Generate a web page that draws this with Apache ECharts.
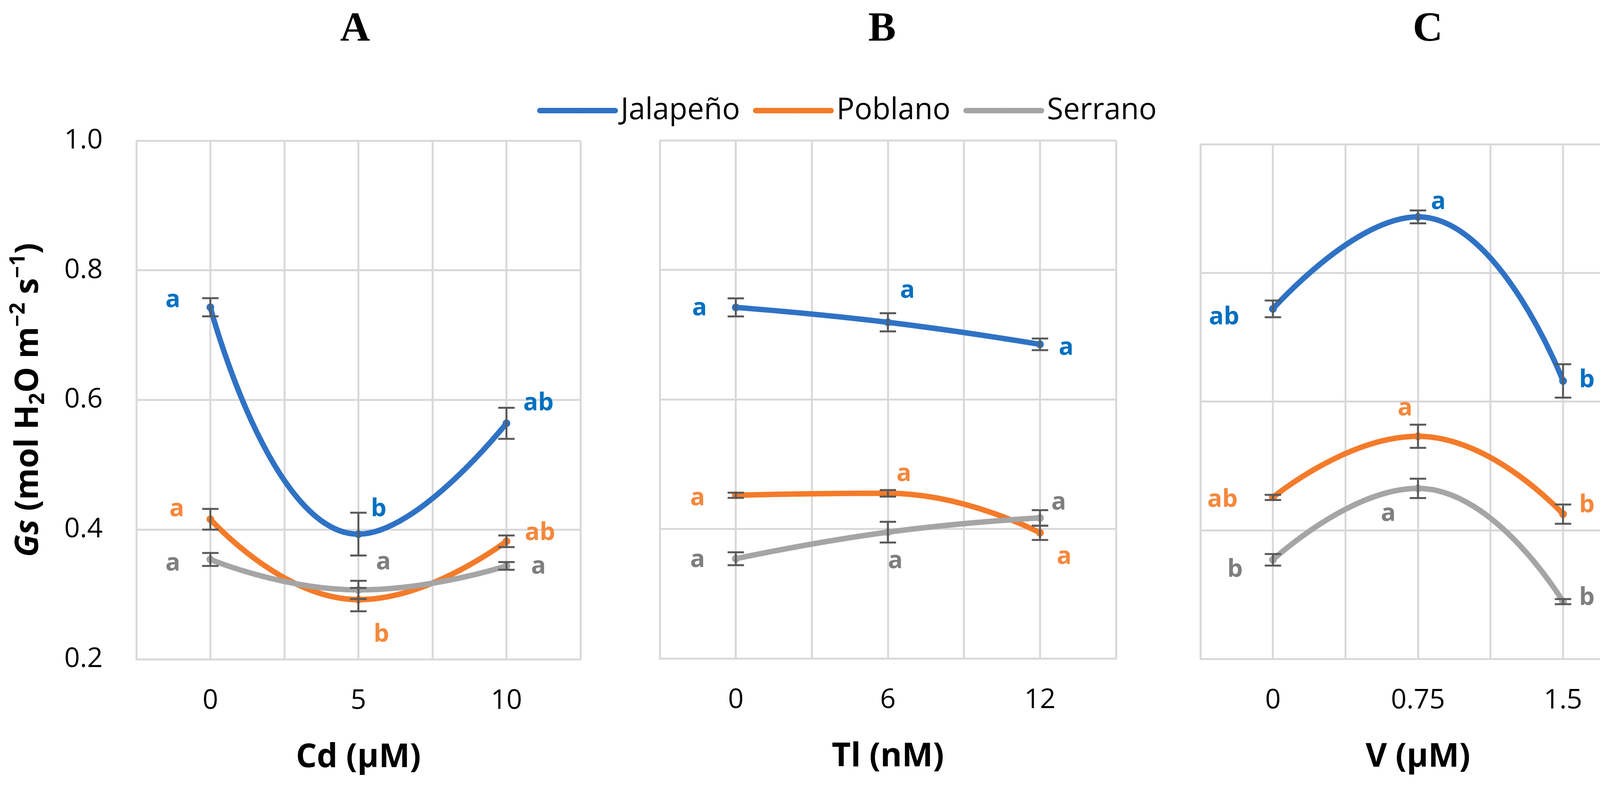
<!DOCTYPE html>
<html>
  <head>
    <title>Gs by metal treatment</title>
    <meta charset="UTF-8" />
    <script src="https://cdn.jsdelivr.net/npm/echarts@6/dist/echarts.min.js"></script>
    <style>
      html, body { margin: 0; padding: 0; background: #fff; }
    </style>
  </head>
  <body>
    <div id="main"></div>
    <script>
      const width = 4219;
      const height = 2019;
      const main = document.getElementById('main');
      main.style.width = `${width}px`;
      main.style.height = `${height}px`;

      const cultivars = ['Jalapeño', 'Poblano', 'Serrano'];
      const panelTitles = ['A', 'B', 'C'];
      const xNames = ['Cd (\u03bcM)', 'Tl (nM)', 'V (\u03bcM)'];
      const cdLevels = ['0', '5', '10'];
      const tlLevels = ['0', '6', '12'];
      const vLevels = ['0', '0.75', '1.5'];

      // Gs means (mol H2O m-2 s-1)
      const cdJal = [0.743, 0.393, 0.564];
      const cdPob = [0.416, 0.292, 0.382];
      const cdSer = [0.354, 0.307, 0.344];
      const tlJal = [0.742, 0.719, 0.685];
      const tlPob = [0.452, 0.455, 0.394];
      const tlSer = [0.354, 0.395, 0.417];
      const vJal = [0.744, 0.887, 0.632];
      const vPob = [0.451, 0.546, 0.425];
      const vSer = [0.354, 0.465, 0.289];

      // error bar half lengths
      const cdJalErr = [0.014, 0.033, 0.024];
      const cdPobErr = [0.016, 0.018, 0.009];
      const cdSerErr = [0.010, 0.014, 0.006];
      const tlJalErr = [0.014, 0.014, 0.009];
      const tlPobErr = [0.004, 0.005, 0.011];
      const tlSerErr = [0.010, 0.016, 0.012];
      const vJalErr = [0.013, 0.010, 0.026];
      const vPobErr = [0.004, 0.018, 0.015];
      const vSerErr = [0.009, 0.015, 0.004];

      // significance letters
      const cdJalLet = ['a', 'b', 'ab'];
      const cdPobLet = ['a', 'b', 'ab'];
      const cdSerLet = ['a', 'a', 'a'];
      const tlJalLet = ['a', 'a', 'a'];
      const tlPobLet = ['a', 'a', 'a'];
      const tlSerLet = ['a', 'a', 'a'];
      const vJalLet = ['ab', 'a', 'b'];
      const vPobLet = ['ab', 'a', 'b'];
      const vSerLet = ['b', 'a', 'b'];

      // where each letter sits relative to its point (px)
      const letterOffsets = [
        [[[-96, -18], [52, -64], [82, -51]], [[-86, -26], [59, 90], [86, -21]], [[-96, 10], [64, -70], [82, 2]]],
        [[[-93, 2], [50, -81], [67, 9]], [[-98, 8], [41, -49], [62, 62]], [[-98, 3], [19, 74], [48, -39]]],
        [[[-125, 22], [52, -38], [61, -2]], [[-129, 6], [-33, -71], [61, -23]], [[-97, 26], [-76, 65], [61, -9]]],
      ];

      const panels = [
        { levels: cdLevels, mean: [cdJal, cdPob, cdSer], err: [cdJalErr, cdPobErr, cdSerErr], letters: [cdJalLet, cdPobLet, cdSerLet] },
        { levels: tlLevels, mean: [tlJal, tlPob, tlSer], err: [tlJalErr, tlPobErr, tlSerErr], letters: [tlJalLet, tlPobLet, tlSerLet] },
        { levels: vLevels, mean: [vJal, vPob, vSer], err: [vJalErr, vPobErr, vSerErr], letters: [vJalLet, vPobLet, vSerLet] },
      ];

      const font = '"Open Sans", "Noto Sans", sans-serif';
      const lineColors = ['#2F72C4', '#F47B2A', '#A5A5A5'];
      const letterColors = ['#0070C0', '#F5883C', '#7F7F7F'];
      const gridColor = '#D9D9D9';
      const barColor = '#595959';

      const grids = [
        { left: 349, top: 360, width: 1137, height: 1327 },
        { left: 1689, top: 359, width: 1168, height: 1326 },
        { left: 3073, top: 369, width: 1114, height: 1317 },
      ];
      const titleX = [909, 2258, 3655];

      // categories sit on odd positions of a 0..6 value axis (gridlines every unit)
      const xPos = (i) => 2 * i + 1;

      const series = [];
      panels.forEach((p, pi) => {
        cultivars.forEach((name, ci) => {
          series.push({
            type: 'line',
            name: name,
            xAxisIndex: pi,
            yAxisIndex: pi,
            smooth: 0.5,
            symbol: 'circle',
            symbolSize: 20,
            lineStyle: { width: 14, color: lineColors[ci], cap: 'round' },
            itemStyle: { color: lineColors[ci] },
            label: {
              position: 'inside',
              fontSize: 63,
              fontWeight: 'bold',
              fontFamily: font,
              color: letterColors[ci],
            },
            emphasis: { disabled: true },
            data: p.mean[ci].map((v, i) => ({
              value: [xPos(i), v],
              label: { show: true, formatter: p.letters[ci][i], offset: letterOffsets[pi][ci][i] },
            })),
            z: 2,
          });
        });

        const bars = [];
        cultivars.forEach((name, ci) => {
          p.mean[ci].forEach((v, i) => {
            bars.push([xPos(i), v - p.err[ci][i], v + p.err[ci][i]]);
          });
        });
        series.push({
          type: 'custom',
          xAxisIndex: pi,
          yAxisIndex: pi,
          silent: true,
          z: 5,
          encode: { x: 0, y: [1, 2] },
          data: bars,
          renderItem: (params, api) => {
            const x = api.value(0);
            const lo = api.coord([x, api.value(1)]);
            const hi = api.coord([x, api.value(2)]);
            const hw = 21;
            const st = { stroke: barColor, lineWidth: 5 };
            return {
              type: 'group',
              children: [
                { type: 'line', shape: { x1: hi[0], y1: hi[1], x2: lo[0], y2: lo[1] }, style: st },
                { type: 'line', shape: { x1: hi[0] - hw, y1: hi[1], x2: hi[0] + hw, y2: hi[1] }, style: st },
                { type: 'line', shape: { x1: lo[0] - hw, y1: lo[1], x2: lo[0] + hw, y2: lo[1] }, style: st },
              ],
            };
          },
        });
      });

      const yName = '{i|Gs} {b|(mol H}{sub|2}{b|O m}{sup|\u22122}{b| s}{sup|\u22121}{b|)}';

      const myChart = echarts.init(main);
      const option = {
        backgroundColor: '#fff',
        animation: false,
        graphic: panelTitles.map((t, i) => ({
          type: 'text',
          x: titleX[i],
          y: 77,
          style: {
            text: t,
            fontSize: 106,
            fontWeight: 'bold',
            fontFamily: '"Liberation Serif", "Times New Roman", serif',
            fill: '#000',
            align: 'center',
            verticalAlign: 'middle',
          },
        })),
        legend: {
          data: cultivars,
          left: 1370,
          top: 240,
          itemWidth: 193,
          itemHeight: 18,
          itemGap: 33,
          lineStyle: { width: 14 },
          textStyle: { fontSize: 76, color: '#000', fontFamily: font, padding: [0, 0, 0, 9] },
        },
        grid: grids.map((g) => Object.assign({ outerBoundsMode: 'none', containLabel: false }, g)),
        xAxis: panels.map((p, pi) => ({
          type: 'value',
          gridIndex: pi,
          min: 0,
          max: 6,
          interval: 1,
          axisLine: { show: true, lineStyle: { color: gridColor, width: 5 } },
          axisTick: { show: false },
          splitLine: { show: true, lineStyle: { color: gridColor, width: 5 } },
          axisLabel: {
            margin: 72,
            fontSize: 70,
            color: '#000',
            fontFamily: font,
            formatter: (v) => (v % 2 === 1 ? p.levels[(v - 1) / 2] : ''),
          },
          name: xNames[pi],
          nameLocation: 'middle',
          nameGap: 210,
          nameTextStyle: { fontSize: 84, fontWeight: 'bold', color: '#000', fontFamily: font },
        })),
        yAxis: panels.map((p, pi) => ({
          type: 'value',
          gridIndex: pi,
          min: 0.2,
          max: 1.0,
          interval: 0.2,
          axisLine: { show: false },
          axisTick: { show: false },
          splitLine: { show: true, lineStyle: { color: gridColor, width: 5 } },
          axisLabel: {
            show: pi === 0,
            margin: 86,
            fontSize: 70,
            color: '#000',
            fontFamily: font,
            formatter: (v) => v.toFixed(1),
          },
          name: pi === 0 ? yName : '',
          nameLocation: 'middle',
          nameGap: 224,
          nameRotate: 90,
          nameTextStyle: {
            fontSize: 83,
            fontWeight: 'bold',
            color: '#000',
            fontFamily: font,
            rich: {
              i: { fontSize: 83, fontWeight: 'bold', fontStyle: 'italic', lineHeight: 104, fontFamily: font, color: '#000' },
              b: { fontSize: 83, fontWeight: 'bold', lineHeight: 104, fontFamily: font, color: '#000' },
              sup: { fontSize: 54, fontWeight: 'bold', lineHeight: 54, verticalAlign: 'top', fontFamily: font, color: '#000' },
              sub: { fontSize: 54, fontWeight: 'bold', lineHeight: 54, verticalAlign: 'bottom', fontFamily: font, color: '#000' },
            },
          },
        })),
        series: series,
      };
      myChart.setOption(option);
    </script>
  </body>
</html>
